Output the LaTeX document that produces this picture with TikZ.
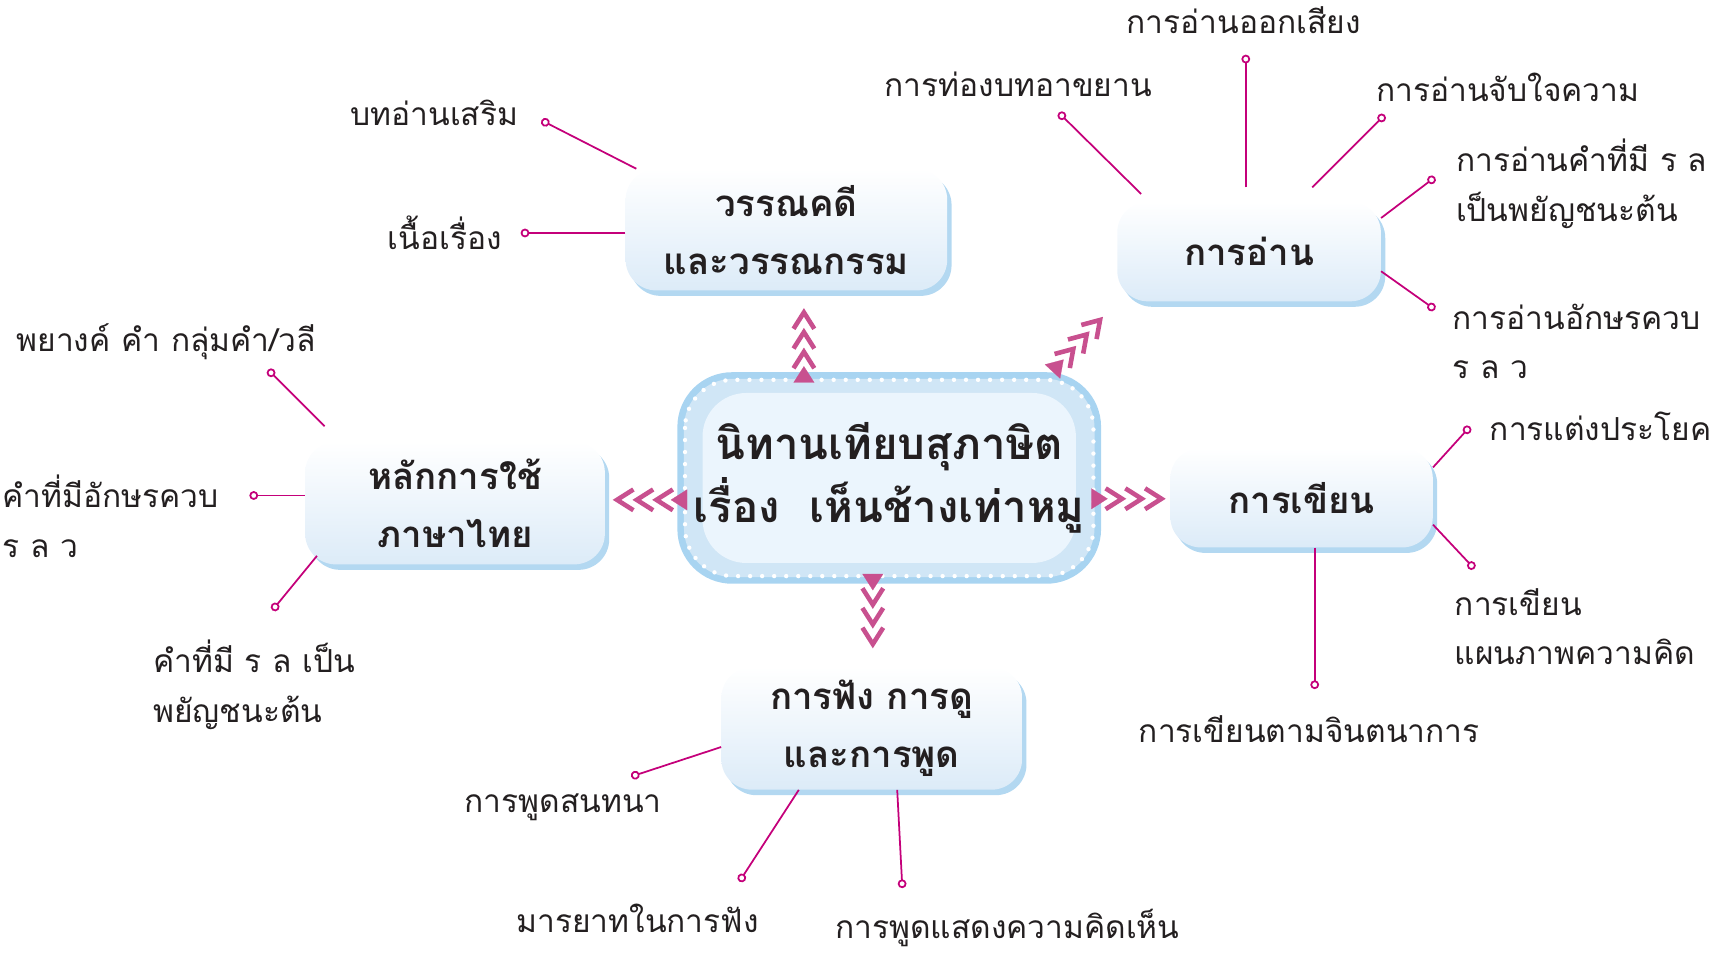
\documentclass[tikz,border=0pt]{standalone}
\usepackage{fontspec}
\setmainfont{Loma}[Script=Thai]
\usetikzlibrary{arrows.meta,shadows,backgrounds}

\definecolor{leafpink}{HTML}{C4007A}
\definecolor{chevpink}{HTML}{C8508F}
\definecolor{outerblue}{HTML}{A8D4F1}
\definecolor{midblue}{HTML}{D0E6F6}
\definecolor{innerblue}{HTML}{EBF5FD}
\definecolor{boxblue}{HTML}{DCEBF8}
\definecolor{shadowblue}{HTML}{B3D8F1}
\definecolor{inkdark}{HTML}{231F20}

\tikzset{
  topic/.style={rounded corners=28pt, top color=white, bottom color=boxblue,
    general shadow={fill=shadowblue, shadow xshift=4pt, shadow yshift=-5pt},
    align=center, text=inkdark, font=\bfseries\fontsize{33.5pt}{53pt}\selectfont},
  leaf/.style={leafpink, line width=1.6pt, -{Circle[open, length=8pt, fill=white]}},
  leaftext/.style={text=inkdark, align=left, inner sep=0pt,
    font=\fontsize{29pt}{45pt}\selectfont},
  chev/.style={white, line width=0.2pt, shorten <=4pt,
    -{Triangle[length=15pt, width=19pt, color=chevpink, sep=-4pt]
      Straight Barb[length=15pt, width=19pt, line width=4.2pt, color=chevpink, sharp, sep=-3pt]
      Straight Barb[length=15pt, width=19pt, line width=4.2pt, color=chevpink, sharp, sep=-3pt]
      Straight Barb[length=15pt, width=19pt, line width=4.2pt, color=chevpink, sharp, sep=-3pt]}}
}

\begin{document}
\begin{tikzpicture}[x=1pt, y=-1pt]
    \useasboundingbox (0,0) rectangle (1568,871);

    \node[minimum width=387pt, minimum height=193pt, text=inkdark, align=center,
        font=\bfseries\fontsize{40pt}{57pt}\selectfont] (c) at (813,437)
        {นิทานเทียบสุภาษิต\\เรื่อง\ \ เห็นช้างเท่าหมู};
    \begin{scope}[on background layer]
        \fill[outerblue, rounded corners=50pt] (c.north west) rectangle (c.south east);
        \fill[midblue, rounded corners=45pt] ([shift={(6pt,-6pt)}]c.north west) rectangle ([shift={(-6pt,6pt)}]c.south east);
        \draw[white, line width=4pt, line cap=round, dash pattern=on 0pt off 11pt, rounded corners=44pt]
            ([shift={(7pt,-7pt)}]c.north west) rectangle ([shift={(-7pt,7pt)}]c.south east);
        \fill[innerblue, rounded corners=40pt] ([shift={(23pt,-19pt)}]c.north west) rectangle ([shift={(-23pt,19pt)}]c.south east);
    \end{scope}

    \node[topic, minimum width=294pt, minimum height=111pt] (wv) at (719,210) {วรรณคดี\\และวรรณกรรม};
    \node[topic, minimum width=241pt, minimum height=91pt] (rd) at (1142,230) {การอ่าน};
    \node[topic, minimum width=274pt, minimum height=112pt] (ht) at (416,460) {หลักการใช้\\ภาษาไทย};
    \node[topic, minimum width=240pt, minimum height=91pt] (wr) at (1190,455) {การเขียน};
    \node[topic, minimum width=275pt, minimum height=112pt] (lt) at (797,666) {การฟัง การดู\\และการพูด};

    \draw[chev, shorten >=19pt] ([xshift=-78pt]c.north) -- ([xshift=16pt]wv.south);
    \draw[chev, shorten >=22pt] ([xshift=-45pt]c.north east) -- (rd.south west);
    \draw[chev, shorten >=10pt] ([yshift=-20pt]c.west) -- ([yshift=3pt]ht.east);
    \draw[chev, shorten >=7pt] ([yshift=-19pt]c.east) -- ([yshift=-1pt]wr.west);
    \draw[chev, shorten >=20pt] ([xshift=-15pt]c.south) -- ([xshift=1pt]lt.north);

    % end points of the branches
    \coordinate (p1) at (495,110);
    \coordinate (p2) at (476,213);
    \coordinate (p3) at (968,103);
    \coordinate (p4) at (1139,50);
    \coordinate (p5) at (1266,105);
    \coordinate (p6) at (1312,162);
    \coordinate (p7) at (1312,283);
    \coordinate (p8) at (1344,390);
    \coordinate (p9) at (1348,520);
    \coordinate (p10) at (1202,630);
    \coordinate (p11) at (577,710);
    \coordinate (p12) at (676,806);
    \coordinate (p13) at (825,812);
    \coordinate (p14) at (245,338);
    \coordinate (p15) at (228,453);
    \coordinate (p16) at (249,558);

    \draw[leaf] ([xshift=10pt]wv.north west) -- (p1);
    \draw[leaf] (p2 -| wv.west) -- (p2);

    \draw[leaf] ([shift={(22pt,7pt)}]rd.north west) -- (p3);
    \draw[leaf, shorten <=13pt] (p4 |- rd.north) -- (p4);
    \draw[leaf] ([shift={(-63pt,13pt)}]rd.north east) -- (p5);
    \draw[leaf] ([yshift=-15pt]rd.north east) -- (p6);
    \draw[leaf] ([yshift=-18pt]rd.east) -- (p7);

    \draw[leaf] ([yshift=-18pt]wr.north east) -- (p8);
    \draw[leaf] ([yshift=21pt]wr.south east) -- (p9);
    \draw[leaf] (p10 |- wr.south) -- (p10);

    \draw[leaf] ([yshift=-17pt]lt.west) -- (p11);
    \draw[leaf] ([xshift=71pt]lt.south west) -- (p12);
    \draw[leaf] ([xshift=161pt]lt.south west) -- (p13);

    \draw[leaf] ([shift={(18pt,14pt)}]ht.north west) -- (p14);
    \draw[leaf] (p15 -| ht.west) -- (p15);
    \draw[leaf] ([shift={(11pt,8pt)}]ht.south west) -- (p16);

    \node[leaftext, anchor=east] (t1) at (474,103) {บทอ่านเสริม};
    \node[leaftext, anchor=east] (t2) at (459,213) {เนื้อเรื่อง};
    \node[leaftext] (t3) at (931,77) {การท่องบทอาขยาน};
    \node[leaftext] (t4) at (1137,18) {การอ่านออกเสียง};
    \node[leaftext, anchor=west] (t5) at (1258,80) {การอ่านจับใจความ};
    \node[leaftext, anchor=west] (t6) at (1331,168) {การอ่านคำที่มี ร ล\\เป็นพยัญชนะต้น};
    \node[leaftext, anchor=west] (t7) at (1328,312) {การอ่านอักษรควบ\\ร ล ว};
    \node[leaftext, anchor=east] (t8) at (1565,390) {การแต่งประโยค};
    \node[leaftext, anchor=west] (t9) at (1330,573) {การเขียน\\แผนภาพความคิด};
    \node[leaftext] (t10) at (1197,667) {การเขียนตามจินตนาการ};
    \node[leaftext] (t11) at (515,738) {การพูดสนทนา};
    \node[leaftext] (t12) at (583,840) {มารยาทในการฟัง};
    \node[leaftext] (t13) at (921,848) {การพูดแสดงความคิดเห็น};
    \node[leaftext, anchor=west] (t14) at (15,312) {พยางค์ คำ กลุ่มคำ/วลี};
    \node[leaftext, anchor=west] (t15) at (2,472) {คำที่มีอักษรควบ\\ร ล ว};
    \node[leaftext, anchor=west] (t16) at (140,626) {คำที่มี ร ล เป็น\\พยัญชนะต้น};
\end{tikzpicture}
\end{document}
